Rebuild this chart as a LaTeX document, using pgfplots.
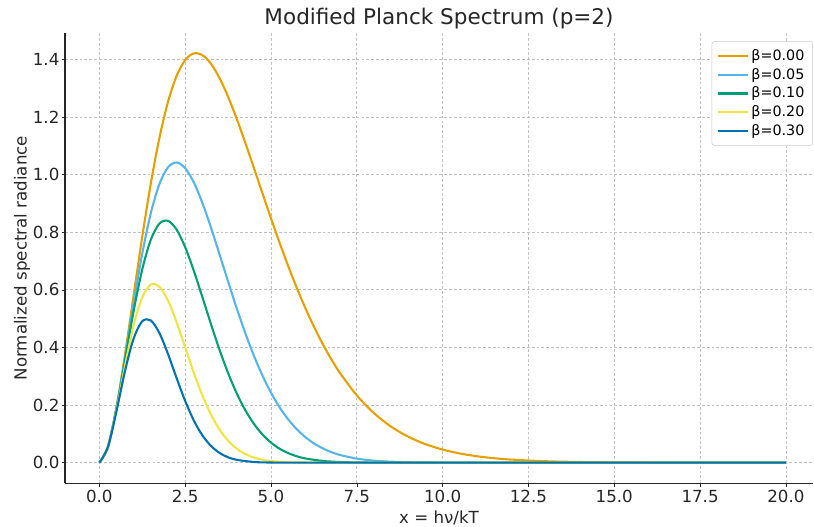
\documentclass[border=0pt]{standalone}
\usepackage{fontspec}
\setmainfont{DejaVu Sans}
\usepackage{pgfplots}
\pgfplotsset{compat=1.18}

\definecolor{cOrange}{HTML}{E69F00}
\definecolor{cSky}{HTML}{56B4E9}
\definecolor{cGreen}{HTML}{009E73}
\definecolor{cYellow}{HTML}{F0E442}
\definecolor{cBlue}{HTML}{0072B2}
\definecolor{txt}{HTML}{262626}

\begin{document}
\begin{tikzpicture}
\begin{axis}[
  name=ax,
  scale only axis,
  width=538.5pt, height=324pt,
  xmin=-1, xmax=20.79,
  ymin=-0.071, ymax=1.491,
  axis x line*=bottom, axis y line*=left,
  axis line style={-, thick, color=black!85},
  tick align=outside,
  major tick length=2.5pt,
  tick style={color=black!85, thin},
  xtick={0,2.5,5,7.5,10,12.5,15,17.5,20},
  ytick={0,0.2,0.4,0.6,0.8,1.0,1.2,1.4},
  /pgf/number format/.cd, fixed, fixed zerofill, precision=1, assume math mode=true,
  /pgfplots/.cd,
  ticklabel style={font=\fontsize{12}{14}\selectfont, color=txt},
  xticklabel shift=-1pt,
  yticklabel shift=-2pt,
  grid=major,
  grid style={dash pattern=on 2pt off 1.5pt, color=black!25, line width=0.5pt},
  every axis title shift=0pt,
  title={Modified Planck Spectrum (p=2)},
  title style={font=\fontsize{15.5}{18}\selectfont, color=txt,
    at={(axis description cs:0.5,1.0333)}, anchor=center},
  xlabel={x = hν/kT},
  ylabel={Normalized spectral radiance},
  label style={font=\fontsize{12}{14}\selectfont, color=txt},
  xlabel style={at={(axis description cs:0.5,-0.0772)}, anchor=center},
  ylabel style={at={(axis description cs:-0.0576,0.5)}, anchor=center},
  legend style={at={(rel axis cs:1,0.982)}, anchor=north east,
    font=\fontsize{10.3}{13.6}\selectfont, draw=black!20, rounded corners=2pt,
    fill=white, inner sep=4pt},
  legend cell align=left,
  legend image code/.code={\draw[line width=1.5pt] (0pt,0pt) -- (21pt,0pt);},
  every axis plot/.append style={line width=1.5pt, smooth},
]

\addplot[cOrange] coordinates {
(0,0)(0.25,0.05502)(0.5,0.19269)(0.75,0.37769)(1.0,0.58198)(1.25,0.78429)
(1.5,0.96935)(1.75,1.12720)(2.0,1.25213)(2.25,1.34202)(2.5,1.39727)(2.75,1.42030)
(3.0,1.41469)(3.25,1.38475)(3.5,1.33502)(3.75,1.27006)(4.0,1.19407)(4.25,1.11086)
(4.5,1.02368)(4.75,0.93533)(5.0,0.84797)(5.25,0.76331)(5.5,0.68273)(5.75,0.60701)
(6.0,0.53674)(6.25,0.47222)(6.5,0.41350)(6.75,0.36053)(7.0,0.31307)(7.5,0.23347)
(8.0,0.17181)(8.5,0.12496)(9.0,0.08997)(9.5,0.06418)(10,0.04540)(10.5,0.03188)
(11,0.02223)(11.5,0.01541)(12,0.01062)(13,0.004966)(14,0.002282)(15,0.001032)
(16,0.000461)(17,0.000203)(18,0.0000888)(19,0.0000384)(20,0.0000165)
};
\addlegendentry{β=0.00}

\addplot[cSky] coordinates {
(0,0)(0.25,0.05485)(0.5,0.19030)(0.75,0.36722)(1.0,0.55360)(1.25,0.72535)
(1.5,0.86621)(1.75,0.96716)(2.0,1.02516)(2.25,1.04189)(2.5,1.02225)(2.75,0.97312)
(3.0,0.90204)(3.25,0.81660)(3.5,0.72357)(3.75,0.62874)(4.0,0.53653)(4.25,0.45024)
(4.5,0.37192)(4.75,0.30271)(5.0,0.24294)(5.25,0.19240)(5.5,0.15045)(5.75,0.11621)
(6.0,0.08872)(6.25,0.06697)(6.5,0.05000)(6.75,0.03695)(7.0,0.02701)(7.5,0.01402)
(8.0,0.00700)(8.5,0.00337)(9.0,0.00157)(9.5,0.000704)(10,0.000306)(11,0.0000524)
(12,0.0000079)(13,0)(14,0)(15,0)(16,0)(17,0)(18,0)(19,0)(20,0)
};
\addlegendentry{β=0.05}

\addplot[cGreen] coordinates {
(0,0)(0.25,0.05468)(0.5,0.18793)(0.75,0.35703)(1.0,0.52660)(1.25,0.67084)
(1.5,0.77405)(1.75,0.82985)(2.0,0.83933)(2.25,0.80890)(2.5,0.74790)
(2.75,0.66673)(3.0,0.57517)(3.25,0.48159)(3.5,0.39218)(3.75,0.31127)(4.0,0.24108)
(4.25,0.18248)(4.5,0.13512)(4.75,0.09798)(5.0,0.06960)(5.25,0.04850)(5.5,0.03315)
(5.75,0.02225)(6.0,0.01466)(6.5,0.00605)(7.0,0.00233)(7.5,0.000841)(8.0,0.000286)
(9,0.0000274)(10,0)(11,0)(12,0)(13,0)(14,0)(15,0)(16,0)(17,0)(18,0)(19,0)(20,0)
};
\addlegendentry{β=0.10}

\addplot[cYellow] coordinates {
(0,0)(0.25,0.05434)(0.5,0.18329)(0.75,0.33750)(1.0,0.47648)(1.25,0.57380)
(1.5,0.61809)(1.75,0.61093)(2.0,0.56262)(2.25,0.48757)(2.5,0.40032)
(2.75,0.31298)(3.0,0.23385)(3.25,0.16746)(3.5,0.11520)(3.75,0.07627)(4.0,0.04867)
(4.25,0.02997)(4.5,0.01783)(4.75,0.01026)(5.0,0.00571)(5.5,0.00161)(6.0,0.000401)
(7,0)(8,0)(9,0)(10,0)(11,0)(12,0)(13,0)(14,0)(15,0)(16,0)(17,0)(18,0)(19,0)(20,0)
};
\addlegendentry{β=0.20}

\addplot[cBlue] coordinates {
(0,0)(0.25,0.05400)(0.5,0.17877)(0.75,0.31904)(1.0,0.43114)(1.25,0.49080)
(1.5,0.49355)(1.75,0.44977)(2.0,0.37713)(2.25,0.29389)(2.5,0.21427)
(2.75,0.14693)(3.0,0.09508)(3.25,0.05823)(3.5,0.03384)(3.75,0.01870)(4.0,0.00983)
(4.5,0.00235)(5.0,0.00047)(6,0)(7,0)(8,0)(9,0)(10,0)(11,0)(12,0)(13,0)(14,0)
(15,0)(16,0)(17,0)(18,0)(19,0)(20,0)
};
\addlegendentry{β=0.30}

\end{axis}
\pgfresetboundingbox
\path[use as bounding box] ([shift={(-46.8pt,-31pt)}]ax.south west)
  rectangle ([shift={(0.7pt,23.8pt)}]ax.north east);
\end{tikzpicture}
\end{document}
